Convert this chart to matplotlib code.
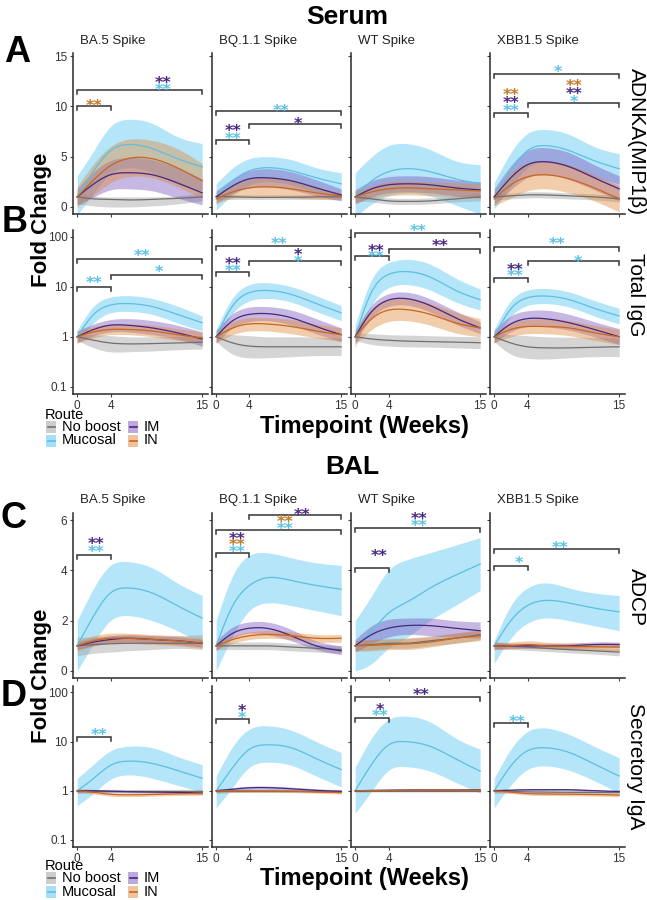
import numpy as np
import matplotlib
matplotlib.use("Agg")
import matplotlib.pyplot as plt
from matplotlib.patches import Rectangle
from matplotlib.lines import Line2D
from matplotlib.ticker import NullLocator

plt.rcParams['font.family'] = ['Liberation Sans', 'DejaVu Sans']

W, H = 647, 900

weeks = [0, 2, 4, 6, 9, 12, 15]
routes = ["Mucosal", "No boost", "IM", "IN"]
antigens = ["BA.5 Spike", "BQ.1.1 Spike", "WT Spike", "XBB1.5 Spike"]

# (mean, lower, upper) for each route
adnka = {
    "BA.5 Spike": {
        "Mucosal": ([1.0, 3.6, 5.6, 6.2, 5.8, 4.8, 4.0], [-0.8, 1.4, 3.3, 3.9, 3.4, 2.3, 1.6], [3.1, 5.6, 8.0, 8.7, 8.3, 7.0, 6.3]),
        "No boost": ([1.0, 0.8, 0.75, 0.7, 0.75, 0.85, 1.0], [0.3, 0.1, 0.0, 0.0, 0.1, 0.3, 0.6], [1.4, 1.1, 1.0, 1.0, 1.0, 1.1, 1.4]),
        "IM": ([1.0, 2.3, 3.2, 3.4, 3.2, 2.4, 1.4], [0.2, 1.0, 1.7, 1.8, 1.6, 0.9, 0.2], [1.8, 3.5, 4.6, 4.9, 4.7, 3.9, 2.8]),
        "IN": ([1.0, 2.7, 4.1, 4.8, 4.8, 3.9, 2.6], [0.0, 1.2, 2.4, 3.0, 2.9, 2.0, 0.9], [2.0, 4.3, 6.0, 6.7, 6.6, 5.8, 4.3]),
    },
    "BQ.1.1 Spike": {
        "Mucosal": ([1.0, 2.6, 3.6, 3.9, 3.6, 2.9, 2.3], [-0.3, 1.2, 2.2, 2.5, 2.2, 1.5, 1.1], [2.3, 3.9, 4.8, 5.0, 4.7, 3.9, 3.4]),
        "No boost": ([1.05, 1.0, 0.95, 0.95, 0.95, 1.0, 1.0], [0.7, 0.75, 0.75, 0.75, 0.75, 0.75, 0.7], [1.4, 1.25, 1.2, 1.2, 1.2, 1.25, 1.3]),
        "IM": ([1.0, 2.1, 2.8, 2.9, 2.6, 1.9, 1.2], [0.4, 1.3, 1.9, 2.0, 1.7, 1.1, 0.6], [1.6, 2.8, 3.6, 3.8, 3.5, 2.7, 1.8]),
        "IN": ([0.8, 1.5, 1.9, 2.0, 1.8, 1.4, 1.1], [0.3, 0.9, 1.0, 1.0, 0.9, 0.8, 0.8], [1.4, 2.2, 2.8, 3.0, 2.7, 2.0, 1.4]),
    },
    "WT Spike": {
        "Mucosal": ([1.0, 2.6, 3.5, 3.8, 3.5, 2.8, 2.3], [-1.0, 0.3, 1.1, 1.4, 1.1, 0.2, -0.7], [3.4, 5.0, 6.1, 6.3, 5.7, 4.6, 4.2]),
        "No boost": ([1.0, 0.8, 0.6, 0.55, 0.6, 0.8, 1.0], [0.6, 0.5, 0.3, 0.25, 0.3, 0.5, 0.6], [1.4, 1.1, 0.9, 0.85, 0.9, 1.1, 1.4]),
        "IM": ([1.0, 1.8, 2.2, 2.3, 2.2, 1.9, 1.7], [0.3, 1.0, 1.4, 1.5, 1.4, 1.1, 0.9], [1.7, 2.6, 3.0, 3.1, 3.0, 2.7, 2.5]),
        "IN": ([1.0, 1.5, 1.8, 1.9, 1.8, 1.7, 1.6], [0.4, 0.9, 1.1, 1.2, 1.1, 1.0, 0.9], [1.6, 2.1, 2.5, 2.6, 2.5, 2.4, 2.3]),
    },
    "XBB1.5 Spike": {
        "Mucosal": ([1.0, 3.6, 5.6, 6.1, 5.6, 4.6, 3.8], [-0.2, 2.0, 3.9, 4.4, 3.9, 3.0, 2.3], [2.4, 5.4, 7.3, 7.7, 7.2, 6.0, 5.3]),
        "No boost": ([1.0, 1.1, 1.2, 1.2, 1.1, 1.0, 0.8], [0.7, 0.8, 0.9, 0.9, 0.8, 0.7, 0.5], [1.3, 1.4, 1.5, 1.5, 1.4, 1.3, 1.1]),
        "IM": ([1.0, 2.9, 4.2, 4.5, 4.0, 2.9, 1.8], [0.2, 1.7, 2.9, 3.2, 2.7, 1.7, 0.6], [1.8, 4.1, 5.6, 5.9, 5.4, 4.2, 3.1]),
        "IN": ([0.8, 2.2, 3.0, 3.2, 2.8, 1.9, 0.8], [0.1, 0.9, 1.6, 1.8, 1.4, 0.6, -0.5], [1.5, 3.4, 4.4, 4.6, 4.2, 3.2, 2.1]),
    },
}

total_igg = {
    "BA.5 Spike": {
        "Mucosal": ([1.0, 2.8, 4.3, 4.6, 4.0, 2.8, 1.9], [0.75, 1.9, 3.0, 3.2, 2.8, 1.9, 1.3], [1.35, 4.1, 6.2, 6.6, 5.8, 4.1, 2.6]),
        "No boost": ([1.0, 0.85, 0.75, 0.72, 0.73, 0.75, 0.78], [0.85, 0.6, 0.5, 0.5, 0.52, 0.55, 0.57], [1.15, 1.1, 1.05, 1.0, 1.0, 1.02, 1.05]),
        "IM": ([1.0, 1.4, 1.7, 1.7, 1.5, 1.2, 0.9], [0.75, 1.05, 1.25, 1.25, 1.1, 0.9, 0.65], [1.3, 1.8, 2.2, 2.3, 2.1, 1.7, 1.25]),
        "IN": ([1.0, 1.25, 1.4, 1.4, 1.3, 1.1, 0.95], [0.75, 0.95, 1.1, 1.1, 1.0, 0.85, 0.75], [1.3, 1.6, 1.8, 1.8, 1.7, 1.45, 1.25]),
    },
    "BQ.1.1 Spike": {
        "Mucosal": ([1.0, 4.2, 7.6, 8.4, 7.0, 4.6, 3.0], [0.75, 2.9, 5.2, 5.8, 4.9, 3.2, 2.1], [1.4, 6.0, 11.0, 12.0, 10.0, 6.6, 4.2]),
        "No boost": ([1.0, 0.75, 0.65, 0.63, 0.63, 0.63, 0.63], [0.8, 0.45, 0.38, 0.38, 0.4, 0.42, 0.42], [1.15, 1.1, 1.05, 1.0, 1.0, 0.98, 0.95]),
        "IM": ([1.0, 2.1, 2.8, 2.9, 2.4, 1.6, 1.1], [0.75, 1.5, 2.0, 2.1, 1.7, 1.15, 0.8], [1.35, 2.9, 3.9, 4.0, 3.4, 2.3, 1.5]),
        "IN": ([1.0, 1.5, 1.8, 1.8, 1.6, 1.3, 1.1], [0.75, 1.1, 1.3, 1.3, 1.15, 0.95, 0.8], [1.3, 2.0, 2.4, 2.4, 2.2, 1.8, 1.5]),
    },
    "WT Spike": {
        "Mucosal": ([1.0, 8.0, 17.5, 20.0, 15.5, 8.5, 5.5], [0.6, 4.2, 9.5, 11.0, 8.5, 5.0, 3.4], [1.7, 14.0, 30.0, 35.0, 28.0, 15.0, 9.0]),
        "No boost": ([1.0, 0.9, 0.85, 0.82, 0.8, 0.78, 0.76], [0.85, 0.7, 0.65, 0.63, 0.62, 0.6, 0.58], [1.2, 1.15, 1.1, 1.08, 1.05, 1.02, 1.0]),
        "IM": ([1.0, 3.2, 5.4, 5.8, 4.2, 2.4, 1.5], [0.75, 2.4, 4.0, 4.3, 3.1, 1.8, 1.15], [1.3, 4.3, 7.2, 7.8, 5.7, 3.3, 2.0]),
        "IN": ([1.0, 2.3, 3.4, 3.5, 2.8, 1.9, 1.5], [0.7, 1.4, 2.0, 2.1, 1.7, 1.2, 1.0], [1.4, 3.6, 5.5, 5.8, 4.6, 3.1, 2.3]),
    },
    "XBB1.5 Spike": {
        "Mucosal": ([1.0, 3.6, 6.0, 6.5, 5.5, 3.7, 2.6], [0.75, 2.5, 4.2, 4.6, 3.9, 2.6, 1.8], [1.4, 5.2, 8.5, 9.2, 7.8, 5.3, 3.7]),
        "No boost": ([1.0, 0.75, 0.63, 0.6, 0.6, 0.62, 0.63], [0.8, 0.45, 0.37, 0.36, 0.38, 0.4, 0.4], [1.2, 1.1, 1.05, 1.0, 0.98, 0.97, 0.95]),
        "IM": ([1.0, 1.8, 2.3, 2.3, 1.9, 1.4, 1.0], [0.75, 1.25, 1.6, 1.6, 1.35, 1.0, 0.7], [1.35, 2.6, 3.3, 3.4, 2.8, 2.0, 1.45]),
        "IN": ([1.0, 1.4, 1.6, 1.6, 1.5, 1.2, 1.0], [0.75, 1.0, 1.15, 1.15, 1.05, 0.85, 0.7], [1.3, 1.9, 2.2, 2.3, 2.1, 1.7, 1.4]),
    },
}

adcp = {
    "BA.5 Spike": {
        "Mucosal": ([1.0, 2.2, 3.1, 3.3, 3.1, 2.6, 2.1], [0.0, 1.1, 2.0, 2.2, 2.0, 1.6, 1.1], [2.0, 3.3, 4.2, 4.35, 4.1, 3.5, 3.0]),
        "No boost": ([1.0, 1.05, 1.08, 1.1, 1.1, 1.1, 1.1], [0.6, 0.7, 0.75, 0.8, 0.85, 0.9, 0.85], [1.35, 1.35, 1.4, 1.4, 1.4, 1.4, 1.45]),
        "IM": ([1.0, 1.15, 1.25, 1.3, 1.25, 1.2, 1.1], [0.85, 1.0, 1.1, 1.15, 1.1, 1.05, 0.95], [1.15, 1.3, 1.4, 1.45, 1.4, 1.35, 1.25]),
        "IN": ([1.0, 1.2, 1.3, 1.3, 1.25, 1.2, 1.1], [0.8, 1.0, 1.1, 1.1, 1.05, 1.0, 0.9], [1.2, 1.4, 1.5, 1.5, 1.45, 1.4, 1.3]),
    },
    "BQ.1.1 Spike": {
        "Mucosal": ([1.0, 2.6, 3.4, 3.7, 3.6, 3.4, 3.25], [0.0, 1.4, 2.4, 2.7, 2.6, 2.4, 2.2], [2.0, 3.8, 4.6, 4.7, 4.5, 4.3, 4.2]),
        "No boost": ([1.0, 1.0, 1.0, 1.0, 0.95, 0.9, 0.85], [0.85, 0.85, 0.85, 0.85, 0.8, 0.75, 0.7], [1.15, 1.15, 1.15, 1.15, 1.1, 1.05, 1.0]),
        "IM": ([1.0, 1.5, 1.7, 1.7, 1.4, 1.0, 0.8], [0.8, 1.3, 1.5, 1.45, 1.2, 0.85, 0.65], [1.2, 1.75, 1.95, 1.95, 1.65, 1.2, 1.0]),
        "IN": ([1.0, 1.25, 1.4, 1.45, 1.4, 1.3, 1.3], [0.85, 1.1, 1.25, 1.3, 1.25, 1.15, 1.15], [1.15, 1.4, 1.55, 1.6, 1.55, 1.45, 1.45]),
    },
    "WT Spike": {
        "Mucosal": ([1.0, 1.6, 2.3, 2.7, 3.3, 3.8, 4.25], [0.0, 0.3, 0.9, 1.3, 2.0, 2.6, 3.2], [2.0, 3.0, 4.0, 4.4, 4.7, 5.0, 5.3]),
        "No boost": ([1.0, 1.05, 1.1, 1.1, 1.2, 1.3, 1.45], [0.8, 0.85, 0.9, 0.9, 1.0, 1.1, 1.25], [1.2, 1.25, 1.3, 1.3, 1.4, 1.5, 1.65]),
        "IM": ([1.0, 1.45, 1.7, 1.8, 1.8, 1.7, 1.6], [0.75, 1.1, 1.35, 1.45, 1.4, 1.35, 1.3], [1.25, 1.8, 2.05, 2.1, 2.1, 2.0, 1.95]),
        "IN": ([1.0, 1.02, 1.05, 1.07, 1.15, 1.3, 1.4], [0.8, 0.8, 0.85, 0.85, 0.95, 1.1, 1.2], [1.2, 1.25, 1.25, 1.3, 1.35, 1.5, 1.6]),
    },
    "XBB1.5 Spike": {
        "Mucosal": ([1.0, 2.0, 2.6, 2.8, 2.7, 2.5, 2.35], [0.3, 1.3, 1.9, 2.1, 2.0, 1.8, 1.6], [1.2, 2.6, 3.3, 3.5, 3.3, 3.1, 3.0]),
        "No boost": ([1.0, 0.98, 0.95, 0.9, 0.85, 0.8, 0.75], [0.85, 0.85, 0.82, 0.78, 0.72, 0.67, 0.6], [1.15, 1.1, 1.08, 1.02, 0.98, 0.93, 0.9]),
        "IM": ([1.0, 1.0, 1.0, 1.0, 1.0, 1.05, 1.05], [0.88, 0.9, 0.9, 0.9, 0.9, 0.93, 0.93], [1.12, 1.1, 1.1, 1.1, 1.1, 1.15, 1.15]),
        "IN": ([1.0, 1.0, 1.05, 1.0, 0.98, 0.96, 0.95], [0.85, 0.88, 0.9, 0.88, 0.85, 0.82, 0.8], [1.15, 1.15, 1.2, 1.15, 1.12, 1.1, 1.1]),
    },
}

secretory_iga = {
    "BA.5 Spike": {
        "Mucosal": ([1.0, 1.8, 3.3, 4.0, 3.6, 2.6, 1.8], [0.5, 0.9, 1.7, 2.1, 1.8, 1.3, 0.95], [1.8, 3.5, 6.5, 8.0, 7.5, 5.0, 3.4]),
        "No boost": ([1.0, 1.0, 1.0, 1.0, 1.0, 1.0, 1.0], [0.88, 0.92, 0.93, 0.93, 0.93, 0.93, 0.93], [1.12, 1.08, 1.07, 1.07, 1.07, 1.07, 1.07]),
        "IM": ([1.0, 1.0, 0.98, 0.96, 0.95, 0.93, 0.9], [0.94, 0.95, 0.93, 0.91, 0.9, 0.88, 0.85], [1.06, 1.05, 1.03, 1.01, 1.0, 0.98, 0.95]),
        "IN": ([1.0, 0.93, 0.85, 0.83, 0.84, 0.87, 0.88], [0.93, 0.86, 0.78, 0.76, 0.78, 0.8, 0.81], [1.07, 1.0, 0.92, 0.9, 0.91, 0.94, 0.95]),
    },
    "BQ.1.1 Spike": {
        "Mucosal": ([1.0, 3.0, 7.0, 8.6, 7.5, 4.5, 2.7], [0.45, 1.2, 3.0, 3.8, 3.3, 2.0, 1.2], [2.0, 8.0, 18.0, 21.0, 17.0, 10.0, 6.0]),
        "No boost": ([1.0, 1.0, 1.0, 1.0, 1.0, 1.0, 1.0], [0.88, 0.92, 0.93, 0.93, 0.93, 0.93, 0.93], [1.12, 1.08, 1.07, 1.07, 1.07, 1.07, 1.07]),
        "IM": ([1.0, 1.08, 1.15, 1.16, 1.1, 1.02, 0.97], [0.94, 1.0, 1.06, 1.07, 1.02, 0.95, 0.9], [1.06, 1.16, 1.24, 1.25, 1.19, 1.1, 1.04]),
        "IN": ([1.0, 1.0, 1.0, 1.0, 0.98, 0.95, 0.92], [0.94, 0.94, 0.94, 0.94, 0.92, 0.89, 0.86], [1.06, 1.06, 1.06, 1.06, 1.04, 1.01, 0.98]),
    },
    "WT Spike": {
        "Mucosal": ([1.0, 3.5, 8.5, 10.0, 8.0, 4.5, 2.5], [0.35, 1.0, 2.6, 3.1, 2.5, 1.5, 0.9], [3.0, 12.0, 28.0, 33.0, 25.0, 12.0, 7.0]),
        "No boost": ([1.0, 1.0, 1.0, 1.0, 1.0, 1.0, 1.0], [0.95, 0.96, 0.96, 0.96, 0.96, 0.96, 0.96], [1.05, 1.04, 1.04, 1.04, 1.04, 1.04, 1.04]),
        "IM": ([1.0, 1.02, 1.03, 1.04, 1.04, 1.04, 1.05], [0.97, 0.99, 1.0, 1.01, 1.01, 1.01, 1.01], [1.03, 1.05, 1.06, 1.07, 1.07, 1.07, 1.09]),
        "IN": ([1.0, 1.01, 1.02, 1.03, 1.03, 1.03, 1.04], [0.97, 0.98, 0.99, 1.0, 1.0, 1.0, 1.0], [1.03, 1.04, 1.05, 1.06, 1.06, 1.06, 1.08]),
    },
    "XBB1.5 Spike": {
        "Mucosal": ([1.0, 3.2, 6.5, 7.5, 6.0, 3.5, 2.0], [0.45, 1.3, 2.7, 3.2, 2.6, 1.6, 0.9], [1.8, 7.0, 16.0, 19.0, 14.0, 8.0, 4.7]),
        "No boost": ([1.0, 0.97, 0.95, 0.94, 0.93, 0.92, 0.92], [0.88, 0.9, 0.89, 0.88, 0.87, 0.86, 0.86], [1.12, 1.05, 1.01, 1.0, 0.99, 0.98, 0.98]),
        "IM": ([1.0, 1.03, 1.05, 1.05, 1.05, 1.0, 0.97], [0.95, 0.98, 1.0, 1.0, 1.0, 0.95, 0.92], [1.05, 1.08, 1.1, 1.1, 1.1, 1.05, 1.02]),
        "IN": ([1.0, 0.94, 0.88, 0.86, 0.85, 0.84, 0.82], [0.94, 0.88, 0.82, 0.8, 0.79, 0.78, 0.76], [1.06, 1.0, 0.94, 0.92, 0.91, 0.9, 0.88]),
    },
}

# significance brackets (week from, week to, height) and stars (week, height, label, route)
adnka_brackets = {
    "BA.5 Spike": [(0, 15, 11.6), (0, 4, 10.0)],
    "BQ.1.1 Spike": [(0, 15, 9.5), (4, 15, 8.2), (0, 4, 6.7)],
    "WT Spike": [],
    "XBB1.5 Spike": [(0, 15, 13.2), (4, 15, 10.3), (0, 4, 9.3)],
}
adnka_stars = {
    "BA.5 Spike": [(10.3, 12.1, "**", "Mucosal"), (10.3, 12.8, "**", "IM"), (2, 10.5, "**", "IN")],
    "BQ.1.1 Spike": [(7.8, 10.0, "**", "Mucosal"), (9.8, 8.7, "*", "IM"),
                     (2, 7.2, "**", "Mucosal"), (2, 8.0, "**", "IM")],
    "WT Spike": [],
    "XBB1.5 Spike": [(7.7, 13.9, "*", "Mucosal"),
                     (9.6, 10.9, "*", "Mucosal"), (9.6, 11.7, "**", "IM"), (9.6, 12.5, "**", "IN"),
                     (2, 10.0, "**", "Mucosal"), (2, 10.8, "**", "IM"), (2, 11.6, "**", "IN")],
}
igg_brackets = {
    "BA.5 Spike": [(0, 15, 36), (4, 15, 17), (0, 4, 10)],
    "BQ.1.1 Spike": [(0, 15, 66), (4, 15, 33), (0, 4, 20)],
    "WT Spike": [(0, 15, 115), (4, 15, 57), (0, 4, 40)],
    "XBB1.5 Spike": [(0, 15, 63), (4, 15, 33), (0, 4, 15)],
}
igg_stars = {
    "BA.5 Spike": [(7.8, 50, "**", "Mucosal"), (9.8, 24, "*", "Mucosal"), (2, 15, "**", "Mucosal")],
    "BQ.1.1 Spike": [(7.5, 90, "**", "Mucosal"), (9.8, 38, "*", "Mucosal"), (9.8, 52, "*", "IM"),
                     (2, 25, "**", "Mucosal"), (2, 35, "**", "IM")],
    "WT Spike": [(7.6, 158, "**", "Mucosal"), (10.2, 79, "**", "IM"),
                 (2.5, 48, "**", "Mucosal"), (2.5, 63, "**", "IM")],
    "XBB1.5 Spike": [(7.6, 87, "**", "Mucosal"), (10, 38, "*", "Mucosal"),
                     (2.5, 20, "**", "Mucosal"), (2.5, 27, "**", "IM")],
}
adcp_brackets = {
    "BA.5 Spike": [(0, 4, 4.6)],
    "BQ.1.1 Spike": [(4, 15, 6.2), (0, 15, 5.6), (0, 4, 4.7)],
    "WT Spike": [(0, 15, 5.7), (0, 4, 4.1)],
    "XBB1.5 Spike": [(0, 15, 4.84), (0, 4, 4.16)],
}
adcp_stars = {
    "BA.5 Spike": [(2.3, 4.9, "**", "Mucosal"), (2.3, 5.22, "**", "IM")],
    "BQ.1.1 Spike": [(10.3, 6.38, "**", "IM"), (8.3, 5.84, "**", "Mucosal"), (8.3, 6.12, "**", "IN"),
                     (2.5, 4.92, "**", "Mucosal"), (2.5, 5.18, "**", "IN"), (2.5, 5.44, "**", "IM")],
    "WT Spike": [(7.7, 5.96, "**", "Mucosal"), (7.7, 6.24, "**", "IM"), (2.9, 4.76, "**", "IM")],
    "XBB1.5 Spike": [(7.9, 5.08, "**", "Mucosal"), (3.0, 4.48, "*", "Mucosal")],
}
iga_brackets = {
    "BA.5 Spike": [(0, 4, 12.6)],
    "BQ.1.1 Spike": [(0, 4, 29)],
    "WT Spike": [(0, 15, 79), (0, 4, 30)],
    "XBB1.5 Spike": [(0, 4, 24)],
}
iga_stars = {
    "BA.5 Spike": [(2.6, 17, "**", "Mucosal")],
    "BQ.1.1 Spike": [(3.1, 37, "*", "Mucosal"), (3.1, 52, "*", "IM")],
    "WT Spike": [(7.9, 108, "**", "IM"), (3.0, 41, "**", "Mucosal"), (3.0, 56, "*", "IM")],
    "XBB1.5 Spike": [(2.8, 31, "**", "Mucosal")],
}

line_col = {"No boost": "#707070", "Mucosal": "#5cbfe3", "IM": "#46287d", "IN": "#c8661f"}
fill_col = {"No boost": "#9c9c9c", "Mucosal": "#4ec3ef", "IM": "#7a55bd", "IN": "#e08838"}
star_col = {"Mucosal": "#5cc3e6", "IM": "#4a2a82", "IN": "#c47a28"}


def smooth(x, y, xs):
    # natural cubic spline through the read values, only for drawing
    x = np.asarray(x, float)
    y = np.asarray(y, float)
    n = len(x)
    h = np.diff(x)
    A = np.zeros((n, n))
    r = np.zeros(n)
    A[0, 0] = A[-1, -1] = 1
    for i in range(1, n - 1):
        A[i, i - 1] = h[i - 1]
        A[i, i] = 2 * (h[i - 1] + h[i])
        A[i, i + 1] = h[i]
        r[i] = 3 * ((y[i + 1] - y[i]) / h[i] - (y[i] - y[i - 1]) / h[i - 1])
    c = np.linalg.solve(A, r)
    b = (y[1:] - y[:-1]) / h - h * (2 * c[:-1] + c[1:]) / 3
    d = (c[1:] - c[:-1]) / (3 * h)
    idx = np.clip(np.searchsorted(x, xs) - 1, 0, n - 2)
    dx = xs - x[idx]
    return y[idx] + b[idx] * dx + c[idx] * dx ** 2 + d[idx] * dx ** 3


fig = plt.figure(figsize=(W / 100, H / 100), dpi=100)


def ftext(px, py, s, **kw):
    return fig.text(px / W, 1 - py / H, s, **kw)


col_left = [73, 212, 351, 490]
col_w = 135
rows = [(adnka, adnka_brackets, adnka_stars, 53, 214, False, False),
        (total_igg, igg_brackets, igg_stars, 230, 394, True, True),
        (adcp, adcp_brackets, adcp_stars, 513, 678, False, False),
        (secretory_iga, iga_brackets, iga_stars, 686, 847, True, True)]
row_titles = [True, False, True, False]
lin_ticks = {0: [0, 5, 10, 15], 2: [0, 2, 4, 6]}
lin_lims = {0: (-0.7, 15.3), 2: (-0.28, 6.28)}

xs = np.linspace(0, 15, 150)

for ri, (data, brackets, stars, top, bot, logy, xlabels) in enumerate(rows):
    for ci, ag in enumerate(antigens):
        ax = fig.add_axes([col_left[ci] / W, 1 - bot / H, col_w / W, (bot - top) / H])
        ax.set_xlim(-0.5, 15.7)
        if logy:
            ax.set_yscale('log')
            ax.set_ylim(0.072, 135)
            ax.set_yticks([0.1, 1, 10, 100])
            ax.yaxis.set_minor_locator(NullLocator())
        else:
            ax.set_ylim(*lin_lims[ri])
            ax.set_yticks(lin_ticks[ri])
        ax.set_xticks([0, 4, 15])
        if ci == 0:
            if logy:
                ax.set_yticklabels(["0.1", "1", "10", "100"])
        else:
            ax.set_yticklabels([])
        if not xlabels:
            ax.set_xticklabels([])
        for s in ['top', 'right']:
            ax.spines[s].set_visible(False)
        for s in ['left', 'bottom']:
            ax.spines[s].set_linewidth(1.1)
            ax.spines[s].set_color('#2a2a2a')
        ax.tick_params(length=2.5, width=0.8, color='#444444', labelsize=8.5,
                       labelcolor='#333333', pad=1.5)
        ax.patch.set_alpha(0)

        for rt in routes:
            mean, lo, hi = data[ag][rt]
            if logy:
                lo_s = 10 ** smooth(weeks, np.log10(lo), xs)
                hi_s = 10 ** smooth(weeks, np.log10(hi), xs)
            else:
                lo_s = smooth(weeks, lo, xs)
                hi_s = smooth(weeks, hi, xs)
            ax.fill_between(xs, lo_s, hi_s, color=fill_col[rt], alpha=0.42, lw=0)
        for rt in routes:
            mean = data[ag][rt][0]
            if logy:
                m_s = 10 ** smooth(weeks, np.log10(mean), xs)
            else:
                m_s = smooth(weeks, mean, xs)
            ax.plot(xs, m_s, color=line_col[rt], lw=0.9)

        for x0, x1, y in brackets[ag]:
            p0 = ax.transData.transform((x0, y))
            yd = ax.transData.inverted().transform((p0[0], p0[1] - 4))[1]
            ax.plot([x0, x0, x1, x1], [yd, y, y, yd], color='#333333', lw=1.1,
                    clip_on=False, solid_joinstyle='miter')
        for x, y, lab, rt in stars[ag]:
            ax.annotate(lab, (x, y), xytext=(0, -7.0), textcoords='offset points',
                        ha='center', va='baseline', fontsize=11.5, fontweight='bold',
                        family='DejaVu Sans', color=star_col[rt], annotation_clip=False)

        if row_titles[ri]:
            ax.text(0.05, 1.04, ag, transform=ax.transAxes, fontsize=9.5,
                    ha='left', va='bottom', color='#222222')

# titles and labels
ftext(347, 17, "Serum", fontsize=19, fontweight='bold', ha='center', va='center')
ftext(352, 467, "BAL", fontsize=19, fontweight='bold', ha='center', va='center')
for lab, (px, py) in zip("ABCD", [(17, 52), (15, 223), (14, 519), (14, 697)]):
    ftext(px, py, lab, fontsize=26, fontweight='bold', ha='center', va='center')
ftext(42, 220, "Fold Change", fontsize=16, fontweight='bold', rotation=90, ha='center', va='center')
ftext(42, 676, "Fold Change", fontsize=16, fontweight='bold', rotation=90, ha='center', va='center')
ftext(364, 427, "Timepoint (Weeks)", fontsize=17, fontweight='bold', ha='center', va='center')
ftext(364, 878, "Timepoint (Weeks)", fontsize=17, fontweight='bold', ha='center', va='center')
for lab, py in [("ADNKA(MIP1β)", 142), ("Total IgG", 295), ("ADCP", 597), ("Secretory IgA", 766)]:
    ftext(636, py, lab, fontsize=15, rotation=-90, ha='center', va='center')

# legends
legend_rows = [[("No boost", 46), ("IM", 128)], [("Mucosal", 46), ("IN", 128)]]
for base in [415, 866]:
    ftext(45, base, "Route", fontsize=10.5, ha='left', va='center')
    for k, row in enumerate(legend_rows):
        py = base + 12 + k * 13.5
        for rt, px in row:
            fig.add_artist(Rectangle((px / W, 1 - (py + 6) / H), 10 / W, 12 / H,
                                     transform=fig.transFigure, color=fill_col[rt],
                                     alpha=0.5, lw=0))
            fig.add_artist(Line2D([(px + 1.5) / W, (px + 8.5) / W], [1 - py / H, 1 - py / H],
                                  transform=fig.transFigure, color=line_col[rt], lw=1.2))
            ftext(px + 16, py, rt, fontsize=10.5, ha='left', va='center')

fig.savefig("out.png", dpi=100)
